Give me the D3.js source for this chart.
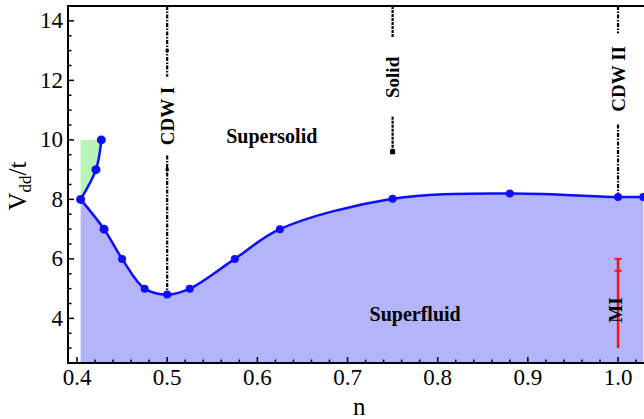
<!DOCTYPE html>
<html>
<head>
<meta charset="utf-8">
<script src="https://cdn.jsdelivr.net/npm/d3@7"></script>
<style>
  body { margin: 0; background: #fff; }
  text { font-family: "Liberation Serif", "Times New Roman", serif; }
</style>
</head>
<body>
<div id="chart"></div>
<script>
// phase boundary, lower (superfluid) branch
const boundaryN = [0.404, 0.43, 0.45, 0.475, 0.5, 0.525, 0.575, 0.625, 0.75, 0.88, 1.0, 1.028];
const boundaryV = [8, 7, 6, 5, 4.8, 5, 6, 7, 8.02, 8.2, 8.08, 8.08];
// upper branch near low filling
const upperN = [0.404, 0.421, 0.427];
const upperV = [8, 9, 10];
// vertical lines for the ordered phases
const phaseNames = ["CDW I", "Solid", "CDW II"];
const phaseN = [0.5, 0.75, 1.0];
const phaseEnd = [4.8, 9.6, 8.08];
const phaseLabelV = [10.8, 12.1, 12.05];
// Mott insulator bar
const miN = 1.0;
const miRange = [3.0, 6.0];
const miCaps = [6.0, 5.6];
// region labels
const regionNames = ["Supersolid", "Superfluid"];
const regionN = [0.616, 0.775];
const regionV = [9.9, 3.91];
// ticks
const xTicks = [0.4, 0.5, 0.6, 0.7, 0.8, 0.9, 1.0];
const yTicks = [4, 6, 8, 10, 12, 14];

const width = 644, height = 419;
const margin = { top: 6, left: 68, bottom: 56 };

const svg = d3.select("#chart").append("svg")
  .attr("width", width).attr("height", height);

// 0.1 in n is about 90 px; right end of frame lies outside the window
const x = d3.scaleLinear().domain([0.39, 1.05]).range([margin.left, margin.left + 6.6 * 90.17]);
const y = d3.scaleLinear().domain([2.5, 14.5]).range([height - margin.bottom, margin.top]);

const boundary = boundaryN.map((n, i) => [n, boundaryV[i]]);
const upper = upperN.map((n, i) => [n, upperV[i]]);

// superfluid fill
const area = d3.area()
  .x(d => x(d[0])).y0(y(2.5)).y1(d => y(d[1]))
  .curve(d3.curveCatmullRom.alpha(0.5));
svg.append("path").attr("d", area(boundary)).attr("fill", "#b3b4fa");

// green region between upper branch and V=10
const green = upper.concat([[upperN[0], upperV[upperV.length - 1]]]);
svg.append("path")
  .attr("d", d3.line().x(d => x(d[0])).y(d => y(d[1]))(green) + "Z")
  .attr("fill", "#b8f3b8");

// vertical phase lines, broken around label
phaseN.forEach((n, i) => {
  const cy = y(phaseLabelV[i]);
  const fs = 19;
  const half = phaseNames[i].length * fs * 0.33 + 8;
  const dash = i == 1 ? "3,1" : "4,1.5,1.5,1.5";
  [[y(14.5), cy - half], [cy + half, y(phaseEnd[i])]].forEach(seg => {
    svg.append("line")
      .attr("x1", x(n)).attr("x2", x(n))
      .attr("y1", seg[0]).attr("y2", seg[1])
      .attr("stroke", "#000").attr("stroke-width", 2.2)
      .attr("stroke-dasharray", dash);
  });
  svg.append("text")
    .attr("transform", `translate(${x(n)},${cy}) rotate(-90)`)
    .attr("text-anchor", "middle").attr("dominant-baseline", "central")
    .attr("font-weight", "bold").attr("font-size", fs)
    .text(phaseNames[i]);
});
// small dots on CDW I line
[13, 9].forEach(v => {
  svg.append("circle").attr("cx", x(0.5)).attr("cy", y(v)).attr("r", 1.8).attr("fill", "#000");
});
// end of solid line
svg.append("rect")
  .attr("x", x(0.75) - 2.5).attr("y", y(9.6) - 2.5)
  .attr("width", 5).attr("height", 5).attr("fill", "#000");

// boundary lines
svg.append("path")
  .attr("d", d3.line().x(d => x(d[0])).y(d => y(d[1])).curve(d3.curveCatmullRom.alpha(0.5))(boundary))
  .attr("fill", "none").attr("stroke", "#0d0dff").attr("stroke-width", 2.5);
svg.append("path")
  .attr("d", d3.line().x(d => x(d[0])).y(d => y(d[1])).curve(d3.curveCatmullRom.alpha(0.5))(upper))
  .attr("fill", "none").attr("stroke", "#0d0dff").attr("stroke-width", 2.5);

svg.selectAll("circle.pt")
  .data(boundary.concat(upper.slice(1)))
  .join("circle").attr("class", "pt")
  .attr("cx", d => x(d[0])).attr("cy", d => y(d[1]))
  .attr("r", d => d[0] < 0.45 ? 4.5 : 4).attr("fill", "#0d0dff");

// MI bar
svg.append("line")
  .attr("x1", x(miN)).attr("x2", x(miN))
  .attr("y1", y(miRange[0])).attr("y2", y(miRange[1]))
  .attr("stroke", "#ff1010").attr("stroke-width", 2.5);
miCaps.forEach(v => {
  svg.append("line")
    .attr("x1", x(miN) - 3.5).attr("x2", x(miN) + 3.5)
    .attr("y1", y(v)).attr("y2", y(v))
    .attr("stroke", "#ff1010").attr("stroke-width", 2);
});
svg.append("text")
  .attr("transform", `translate(${x(0.9967)},${y(4.28)}) rotate(-90)`)
  .attr("text-anchor", "middle").attr("dominant-baseline", "central")
  .attr("font-weight", "bold").attr("font-size", 19)
  .text("MI");

// region labels
regionNames.forEach((t, i) => {
  svg.append("text")
    .attr("x", x(regionN[i])).attr("y", y(regionV[i]))
    .attr("text-anchor", "middle")
    .attr("font-weight", "bold").attr("font-size", 20)
    .text(t);
});

// frame and axes
const bottomY = y(2.5);
svg.append("line").attr("x1", margin.left).attr("x2", width + 10)
  .attr("y1", bottomY).attr("y2", bottomY).attr("stroke", "#000").attr("stroke-width", 2);
svg.append("line").attr("x1", margin.left).attr("x2", width + 10)
  .attr("y1", y(14.5)).attr("y2", y(14.5)).attr("stroke", "#000").attr("stroke-width", 2);
svg.append("line").attr("x1", margin.left).attr("x2", margin.left)
  .attr("y1", y(14.5) - 1).attr("y2", bottomY + 1).attr("stroke", "#000").attr("stroke-width", 2);

const xMinor = d3.range(0.4, 1.05, 0.02);
svg.selectAll("line.xt")
  .data(xMinor).join("line").attr("class", "xt")
  .attr("x1", d => x(d)).attr("x2", d => x(d))
  .attr("y1", bottomY).attr("y2", (d, i) => bottomY - (i % 5 == 0 ? 6 : 3.5))
  .attr("stroke", "#000").attr("stroke-width", 1.5);
const yMinor = d3.range(3, 14.51, 0.5);
svg.selectAll("line.yt")
  .data(yMinor).join("line").attr("class", "yt")
  .attr("y1", d => y(d)).attr("y2", d => y(d))
  .attr("x1", margin.left).attr("x2", d => margin.left + (d % 2 == 0 ? 6 : 3.5))
  .attr("stroke", "#000").attr("stroke-width", 1.5);

svg.selectAll("text.xl")
  .data(xTicks).join("text").attr("class", "xl")
  .attr("x", d => x(d)).attr("y", bottomY + 22)
  .attr("text-anchor", "middle").attr("font-size", 23)
  .text(d3.format(".1f"));
svg.selectAll("text.yl")
  .data(yTicks).join("text").attr("class", "yl")
  .attr("x", margin.left - 5).attr("y", d => y(d))
  .attr("text-anchor", "end").attr("dominant-baseline", "central").attr("font-size", 23)
  .text(d => d);

svg.append("text")
  .attr("x", x(0.713)).attr("y", 415)
  .attr("text-anchor", "middle").attr("font-size", 25)
  .text("n");

const yl = svg.append("text")
  .attr("transform", `translate(26,${y(8.45)}) rotate(-90)`)
  .attr("text-anchor", "middle").attr("font-size", 25);
yl.append("tspan").text("V");
yl.append("tspan").attr("font-size", 17).attr("dy", 5).text("dd");
yl.append("tspan").attr("dy", -5).text("/t");
</script>
</body>
</html>
